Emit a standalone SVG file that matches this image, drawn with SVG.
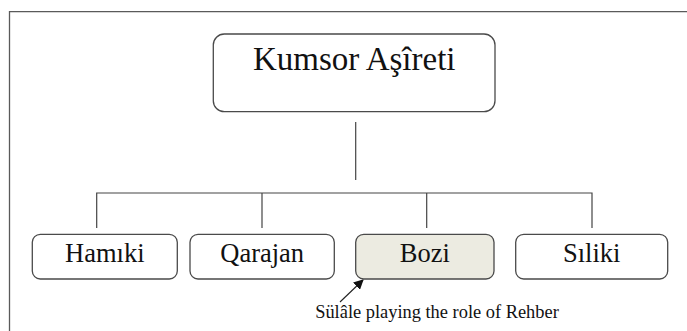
<svg xmlns="http://www.w3.org/2000/svg" width="687" height="331" viewBox="0 0 687 331">
<defs>
<style>
.box{fill:#ffffff;stroke:#4a4a4a;stroke-width:1.3}
.hl{fill:#ecebe1}
.lbl{font-family:"Liberation Serif","Times New Roman",serif;fill:#111;text-anchor:middle}
.ln{stroke:#444;stroke-width:1.2;fill:none}
</style>
<marker id="ah" viewBox="0 0 10 10" refX="9" refY="5" markerWidth="10" markerHeight="10" markerUnits="userSpaceOnUse" orient="auto">
<path d="M0,0 L10,5 L0,10 z" fill="#111"/>
</marker>
</defs>
<rect width="687" height="331" fill="#ffffff"/>
<path d="M9.5,340 L9.5,11.7 L700,11.7" fill="none" stroke="#5a5a5a" stroke-width="1.3"/>
<g id="connectors">
<line class="ln" x1="355.7" y1="122" x2="355.7" y2="180"/>
<polyline class="ln" points="96.7,228 96.7,193 592,193 592,228"/>
<line class="ln" x1="262" y1="193" x2="262" y2="228"/>
<line class="ln" x1="426.7" y1="193" x2="426.7" y2="228"/>
<line x1="340" y1="302" x2="363" y2="280" stroke="#222" stroke-width="1.1" marker-end="url(#ah)"/>
</g>
<g id="node-kumsor">
<rect class="box" x="213.3" y="34" width="281.7" height="77.7" rx="11"/>
<text class="lbl" x="354.2" y="70" font-size="33">Kumsor Aşîreti</text>
</g>
<g id="node-hamiki">
<rect class="box" x="32.3" y="234.3" width="145" height="44.7" rx="8"/>
<text class="lbl" x="104.8" y="261.7" font-size="26.5">Hamıki</text>
</g>
<g id="node-qarajan">
<rect class="box" x="190" y="234.3" width="144.3" height="44.7" rx="8"/>
<text class="lbl" x="262.2" y="261.7" font-size="26.5">Qarajan</text>
</g>
<g id="node-bozi">
<rect class="box hl" x="355.7" y="234.3" width="138.3" height="44.7" rx="8"/>
<text class="lbl" x="424.9" y="261.7" font-size="26.5">Bozi</text>
</g>
<g id="node-siliki">
<rect class="box" x="515.7" y="234.3" width="152" height="44.7" rx="8"/>
<text class="lbl" x="591.7" y="261.7" font-size="26.5">Sıliki</text>
</g>
<g id="annotation">
<text class="lbl" x="437" y="318.3" font-size="18.4">Sülâle playing the role of Rehber</text>
</g>
</svg>
